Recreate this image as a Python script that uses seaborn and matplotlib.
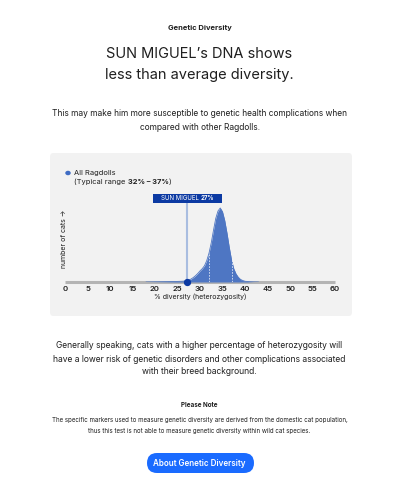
import numpy as np
import pandas as pd
import matplotlib
matplotlib.use("Agg")
import matplotlib.pyplot as plt
from matplotlib.patches import FancyBboxPatch, Rectangle, Ellipse
import seaborn as sns

# density of heterozygosity across all Ragdolls (relative, peak = 1)
DIVERSITY = [18, 20, 22, 24, 25, 26, 27, 27.5, 28, 28.5, 29, 29.5, 30, 30.5, 31, 31.5,
             32, 32.5, 33, 33.5, 34, 34.5, 35, 35.5, 36, 36.5, 37, 37.5, 38, 38.5,
             39, 39.5, 40, 41, 42, 43]
DENSITY = [0.0, 0.002, 0.004, 0.006, 0.008, 0.01, 0.015, 0.025, 0.04, 0.06, 0.085, 0.115,
           0.15, 0.18, 0.22, 0.29, 0.39, 0.53, 0.70, 0.86, 0.96, 1.0, 0.95, 0.83, 0.66,
           0.47, 0.30, 0.18, 0.11, 0.065, 0.035, 0.02, 0.01, 0.004, 0.001, 0.0]
TYPICAL_RANGE = [32, 37]
CAT_NAME = "SUN MIGUEL"
CAT_SCORE = 27
X_TICKS = [0, 5, 10, 15, 20, 25, 30, 35, 40, 45, 50, 55, 60]

df = pd.DataFrame({"diversity": DIVERSITY, "density": DENSITY})

W, H = 399, 495
sns.set_theme(style="white")
plt.rcParams["font.family"] = ["Inter", "DejaVu Sans"]

fig = plt.figure(figsize=(W / 100, H / 100), dpi=100)
fig.patch.set_facecolor("white")
renderer = fig.canvas.get_renderer()

TXT = "#1f1f1f"
FILL = "#4e76c3"
NAVY = "#0c3aa3"


def fy(py):
    return 1 - py / H


def fx(px):
    return px / W


def run_text(x_px, y_px, pieces, size, color=TXT, zorder=3):
    # draw consecutive text pieces (text, weight) starting at x_px
    x = x_px
    for s, weight in pieces:
        t = fig.text(fx(x), fy(y_px), s, ha="left", va="center", fontsize=size,
                     fontweight=weight, color=color, zorder=zorder)
        x += t.get_window_extent(renderer).width
    return x


# header text
fig.text(0.5, fy(28), "Genetic Diversity", ha="center", va="center",
         fontsize=5.45, fontweight="bold", color=TXT)
fig.text(0.5, fy(54), "SUN MIGUEL\u2019s DNA shows", ha="center", va="center",
         fontsize=10.5, color=TXT)
fig.text(0.5, fy(75), "less than average diversity.", ha="center", va="center",
         fontsize=10.5, color=TXT)
fig.text(0.5, fy(113), "This may make him more susceptible to genetic health complications when",
         ha="center", va="center", fontsize=6.05, color=TXT)
fig.text(0.5, fy(127), "compared with other Ragdolls.",
         ha="center", va="center", fontsize=6.05, color=TXT)

# grey chart panel
panel = FancyBboxPatch((fx(50), fy(316)), fx(302), 163 / H,
                       boxstyle="round,pad=0,rounding_size=0.008",
                       transform=fig.transFigure, facecolor="#f2f2f2",
                       edgecolor="none", zorder=-5)
fig.patches.append(panel)

# chart axes: x 0..60 -> px 65..335, baseline at px 282, peak at px 208
ax = fig.add_axes([fx(65), fy(282), 270 / W, 92 / H])
ax.set_zorder(1)
ax.patch.set_alpha(0)
ymax = 92 / 74
ax.set_xlim(0, 60)
ax.set_ylim(0, ymax)

ax.plot([0, 60], [0, 0], color="#b4b4b4", lw=2.2, solid_capstyle="butt",
        zorder=1, clip_on=False)
ax.fill_between(df["diversity"], df["density"], color=FILL, lw=0, zorder=2)
sns.lineplot(data=df, x="diversity", y="density", ax=ax, color=FILL, lw=0.6,
             zorder=3)

for r in TYPICAL_RANGE:
    h = np.interp(r, DIVERSITY, DENSITY)
    ax.plot([r, r], [0, h], color="white", lw=0.6, ls=(0, (2, 1.5)),
            alpha=0.8, zorder=4)

# cat marker
box_bottom = (282 - 203) / 74
box_top = (282 - 194) / 74
ax.plot([CAT_SCORE, CAT_SCORE], [0, box_bottom], color="#a9bde0", lw=1.5,
        zorder=5, clip_on=False)
ax.scatter([CAT_SCORE], [0], s=18, color=NAVY, zorder=6, clip_on=False)
ax.add_patch(Rectangle((19.6, box_bottom), 15.3, box_top - box_bottom,
                       facecolor=NAVY, edgecolor="none", clip_on=False, zorder=6))

ax.set_xticks(X_TICKS)
ax.set_xticklabels([str(t) for t in X_TICKS], fontsize=5.6, fontweight="semibold",
                   color=TXT)
ax.tick_params(axis="x", length=0, pad=3)
ax.set_yticks([])
ax.set_xlabel("% diversity (heterozygosity)", fontsize=5, color=TXT, labelpad=1)
ax.set_ylabel("")
sns.despine(ax=ax, left=True, bottom=True)

# label inside the box, centred on the box
lab_pieces = [(CAT_NAME + " ", "normal"), (f"{CAT_SCORE}%", "bold")]
probe = [fig.text(0, 0, s, fontsize=4.4, fontweight=w) for s, w in lab_pieces]
lab_w = sum(p.get_window_extent(renderer).width for p in probe)
for p in probe:
    p.remove()
run_text(187.5 - lab_w / 2, 198.5, lab_pieces, 4.4, color="white", zorder=10)

fig.text(fx(64), fy(239), "number of cats \u2192", rotation=90, ha="center",
         va="center", fontsize=5, color=TXT)

# legend
fig.patches.append(Ellipse((fx(68), fy(173)), 5.5 / W, 4.5 / H,
                           transform=fig.transFigure, facecolor="#3f6cc4",
                           edgecolor="none"))
fig.text(fx(74), fy(173), "All Ragdolls", ha="left", va="center",
         fontsize=5.4, color=TXT)
run_text(74, 181.5, [("(Typical range ", "normal"),
                     (f"{TYPICAL_RANGE[0]}% \u2013 {TYPICAL_RANGE[1]}%", "bold"),
                     (")", "normal")], 5.4)

# body text
body = ["Generally speaking, cats with a higher percentage of heterozygosity will",
        "have a lower risk of genetic disorders and other complications associated",
        "with their breed background."]
for i, line in enumerate(body):
    fig.text(0.5, fy(346 + 13 * i), line, ha="center", va="center",
             fontsize=6.1, color=TXT)

fig.text(0.5, fy(405), "Please Note", ha="center", va="center", fontsize=4.5,
         fontweight="bold", color=TXT)
note = ["The specific markers used to measure genetic diversity are derived from the domestic cat population,",
        "thus this test is not able to measure genetic diversity within wild cat species."]
for i, line in enumerate(note):
    fig.text(0.5, fy(420 + 11 * i), line, ha="center", va="center",
             fontsize=4.45, color=TXT)

# button
btn = FancyBboxPatch((fx(147), fy(473)), fx(107), 20 / H,
                     boxstyle="round,pad=0,rounding_size=0.025",
                     transform=fig.transFigure, facecolor="#1a6bff",
                     edgecolor="none", mutation_aspect=W / H)
fig.patches.append(btn)
fig.text(0.5, fy(463), "About Genetic Diversity", ha="center", va="center",
         fontsize=5.8, fontweight="semibold", color="white")

fig.savefig("out.png", dpi=100, facecolor="white")
